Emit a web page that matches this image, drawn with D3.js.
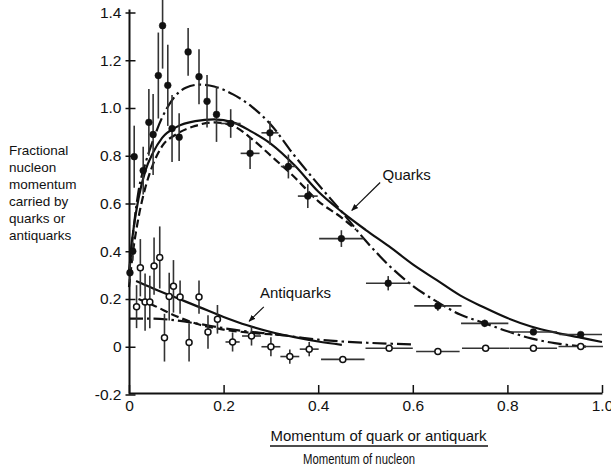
<!DOCTYPE html>
<html><head><meta charset="utf-8">
<script src="https://cdn.jsdelivr.net/npm/d3@7"></script>
<style>body{margin:0;background:#fff}svg{display:block}text{font-family:"Liberation Sans",Arial,sans-serif;fill:#111}</style>
</head><body>
<svg id="c" width="611" height="465"></svg>
<script>
// ---- data ----
const xTicks = [0, 0.2, 0.4, 0.6, 0.8, 1.0];
const xTickLabels = ["0", "0.2", "0.4", "0.6", "0.8", "1.0"];
const yTicks = [-0.2, 0, 0.2, 0.4, 0.6, 0.8, 1.0, 1.2, 1.4];
const yTickLabels = ["-0.2", "0", "0.2", "0.4", "0.6", "0.8", "1.0", "1.2", "1.4"];

// quark data points: x, y, y-error, x-error
const quarkX    = [0.002,0.008,0.011,0.030,0.042,0.051,0.062,0.071,0.082,0.091,0.106,0.125,0.148,0.165,0.185,0.215,0.256,0.298,0.337,0.378,0.449,0.548,0.653,0.752,0.855,0.955];
const quarkY    = [0.31,0.40,0.796,0.738,0.94,0.889,1.136,1.345,1.095,0.914,0.878,1.235,1.131,1.028,0.973,0.935,0.81,0.896,0.755,0.631,0.453,0.266,0.171,0.098,0.062,0.051];
const quarkYErr = [0.04,0.04,0.13,0.10,0.14,0.17,0.18,0.18,0.17,0.14,0.10,0.10,0.115,0.11,0.115,0.06,0.066,0.05,0.05,0.05,0.035,0.03,0.02,0.015,0.01,0.01];
const quarkXErr = [0,0,0,0,0,0,0,0,0,0,0,0,0,0,0,0.021,0.02,0.018,0.016,0.021,0.047,0.047,0.05,0.05,0.05,0.045];

// antiquark data points
const antiX    = [0.016,0.024,0.034,0.044,0.053,0.065,0.075,0.085,0.094,0.108,0.127,0.148,0.167,0.187,0.219,0.259,0.300,0.340,0.381,0.452,0.550,0.653,0.754,0.855,0.955];
const antiY    = [0.168,0.331,0.187,0.187,0.338,0.374,0.038,0.21,0.253,0.208,0.018,0.208,0.062,0.115,0.02,0.045,0.0,-0.041,-0.01,-0.053,-0.006,-0.02,-0.006,-0.006,0.001];
const antiYErr = [0.09,0.12,0.12,0.11,0.12,0.13,0.10,0.10,0.11,0.07,0.08,0.07,0.07,0.06,0.04,0.04,0.04,0.03,0.03,0,0,0,0,0,0];
const antiXErr = [0,0,0,0,0,0,0,0,0,0,0,0,0,0,0.015,0.02,0.02,0.02,0.02,0.046,0.05,0.046,0.05,0.05,0.047];

// theory curves
const quarkSolidX = [0,0.005,0.01,0.02,0.035,0.05,0.07,0.1,0.14,0.18,0.22,0.26,0.3,0.35,0.4,0.45,0.5,0.55,0.6,0.65,0.7,0.75,0.8,0.85,0.9,0.95,1.0];
const quarkSolidY = [0.30,0.42,0.50,0.62,0.74,0.81,0.875,0.92,0.945,0.952,0.94,0.9,0.85,0.76,0.65,0.565,0.49,0.42,0.345,0.28,0.215,0.165,0.12,0.085,0.06,0.04,0.02];
const quarkDashX = [0,0.01,0.02,0.035,0.05,0.07,0.1,0.14,0.18,0.22,0.26,0.3,0.35,0.4,0.45,0.48];
const quarkDashY = [0.25,0.42,0.54,0.67,0.76,0.84,0.89,0.925,0.94,0.925,0.87,0.8,0.71,0.61,0.54,0.49];
const quarkDotDashX = [0,0.01,0.02,0.035,0.05,0.07,0.09,0.12,0.15,0.18,0.22,0.26,0.3,0.35,0.4,0.45,0.5,0.55,0.6,0.65,0.7,0.75,0.8,0.85,0.9,0.95,0.97];
const quarkDotDashY = [0.30,0.50,0.65,0.77,0.86,0.96,1.03,1.085,1.098,1.09,1.057,1.005,0.93,0.8,0.68,0.565,0.445,0.34,0.255,0.19,0.135,0.1,0.065,0.035,0.015,0.003,0];

const antiSolidX = [0.015,0.05,0.1,0.15,0.2,0.25,0.3,0.35,0.4,0.45];
const antiSolidY = [0.275,0.245,0.205,0.165,0.125,0.09,0.062,0.04,0.022,0.008];
const antiDashX = [0.02,0.05,0.1,0.15,0.2,0.25,0.3,0.33];
const antiDashY = [0.2,0.175,0.128,0.092,0.072,0.06,0.052,0.048];
const antiDotDashX = [0,0.05,0.1,0.15,0.2,0.25,0.3,0.35,0.4,0.45,0.5,0.55,0.6];
const antiDotDashY = [0.118,0.118,0.11,0.095,0.078,0.064,0.054,0.042,0.03,0.022,0.017,0.013,0.01];

const yLabelLines = ["Fractional","nucleon","momentum","carried by","quarks or","antiquarks"];
const xLabelTop = "Momentum of quark or antiquark";
const xLabelBottom = "Momentum of nucleon";
// annotations in data coordinates: label pos, arrow start, arrow end
const annotations = [
  {text:"Quarks", tx:0.536, ty:0.698, ax1:0.531, ay1:0.688, ax2:0.471, ay2:0.571},
  {text:"Antiquarks", tx:0.277, ty:0.205, ax1:0.285, ay1:0.167, ax2:0.254, ay2:0.107}
];

// ---- drawing ----
const svg = d3.select("#c");
const x = d3.scaleLinear([0,1],[129,602]);
const y = d3.scaleLinear([-0.2,1.4],[394.5,12.5]);

svg.append("defs").append("marker").attr("id","ah").attr("viewBox","0 0 10 10")
  .attr("refX",9).attr("refY",5).attr("markerWidth",7).attr("markerHeight",7)
  .attr("orient","auto").attr("markerUnits","userSpaceOnUse")
  .append("path").attr("d","M0,1L10,5L0,9Z").attr("fill","#111");

// axes
const yAxis = d3.axisLeft(y).tickValues(yTicks).tickFormat((d,i)=>yTickLabels[i]).tickSizeInner(5).tickSizeOuter(0).tickPadding(3);
const gy = svg.append("g").attr("transform",`translate(${x(0)+0.5},0)`).call(yAxis);
gy.select(".domain").attr("d",`M0,${y(-0.2)}V${y(1.4)-3}`).attr("stroke","#111").attr("stroke-width",2);
gy.selectAll(".tick line").attr("x1",-4).attr("x2",6).attr("stroke","#111").attr("stroke-width",1.5);
gy.selectAll(".tick text").attr("font-size",15.5).style("font-family","Liberation Sans, Arial, sans-serif").attr("fill","#111");

const xAxis = d3.axisBottom(x).tickValues(xTicks).tickFormat((d,i)=>xTickLabels[i]).tickSizeInner(0).tickSizeOuter(0).tickPadding(7);
const gx = svg.append("g").attr("transform",`translate(0,${y(-0.2)-1.5})`).call(xAxis);
gx.select(".domain").attr("stroke","#111").attr("stroke-width",2);
gx.selectAll(".tick line").attr("y1",0).attr("y2",-8).attr("stroke","#111").attr("stroke-width",1.5);
gx.selectAll(".tick text").attr("font-size",15.5).style("font-family","Liberation Sans, Arial, sans-serif").attr("fill","#111");

// y label
const yl = svg.append("text").attr("x",9).attr("y",155).attr("font-size",13.5);
yLabelLines.forEach((t,i)=>yl.append("tspan").attr("x",9).attr("dy",i?17:0).text(t));

// x label
svg.append("text").attr("x",378.5).attr("y",441).attr("text-anchor","middle").attr("font-size",15)
  .attr("textLength",216).attr("lengthAdjust","spacingAndGlyphs").text(xLabelTop);
svg.append("line").attr("x1",270).attr("x2",488).attr("y1",446).attr("y2",446).attr("stroke","#111").attr("stroke-width",1.5);
svg.append("text").attr("x",359).attr("y",463.5).attr("text-anchor","middle").attr("font-size",14)
  .attr("textLength",112).attr("lengthAdjust","spacingAndGlyphs").text(xLabelBottom);

// curves
const line = d3.line().x(d=>x(d[0])).y(d=>y(d[1])).curve(d3.curveMonotoneX);
function curve(xs, ys, dash){
  svg.append("path").attr("d", line(xs.map((v,i)=>[v,ys[i]])))
    .attr("fill","none").attr("stroke","#111").attr("stroke-width",2.2)
    .attr("stroke-dasharray", dash);
}
curve(quarkSolidX, quarkSolidY, null);
curve(quarkDashX, quarkDashY, "8,4");
curve(quarkDotDashX, quarkDotDashY, "14,4,2.5,4");
curve(antiSolidX, antiSolidY, null);
curve(antiDashX, antiDashY, "8,4");
curve(antiDotDashX, antiDotDashY, "14,4,2.5,4");

// error bars + points
function points(xs, ys, yerr, xerr, filled){
  const g = svg.append("g");
  xs.forEach((xv,i)=>{
    if (yerr[i]>0) g.append("line").attr("x1",x(xv)).attr("x2",x(xv)).attr("y1",y(ys[i]-yerr[i])).attr("y2",y(ys[i]+yerr[i])).attr("stroke","#333").attr("stroke-width",1.6);
    if (xerr[i]>0) g.append("line").attr("y1",y(ys[i])).attr("y2",y(ys[i])).attr("x1",x(xv-xerr[i])).attr("x2",x(xv+xerr[i])).attr("stroke","#333").attr("stroke-width",1.6);
  });
  xs.forEach((xv,i)=>{
    g.append("circle").attr("cx",x(xv)).attr("cy",y(ys[i])).attr("r",filled?3.4:3)
      .attr("fill",filled?"#111":"#fff").attr("stroke","#111").attr("stroke-width",filled?0.5:1.5);
  });
}
points(quarkX, quarkY, quarkYErr, quarkXErr, true);
points(antiX, antiY, antiYErr, antiXErr, false);

// annotations
annotations.forEach(a=>{
  svg.append("text").attr("x",x(a.tx)).attr("y",y(a.ty)).attr("font-size",15).text(a.text);
  svg.append("line").attr("x1",x(a.ax1)).attr("y1",y(a.ay1)).attr("x2",x(a.ax2)).attr("y2",y(a.ay2))
    .attr("stroke","#111").attr("stroke-width",1.2).attr("marker-end","url(#ah)");
});
</script></body></html>
